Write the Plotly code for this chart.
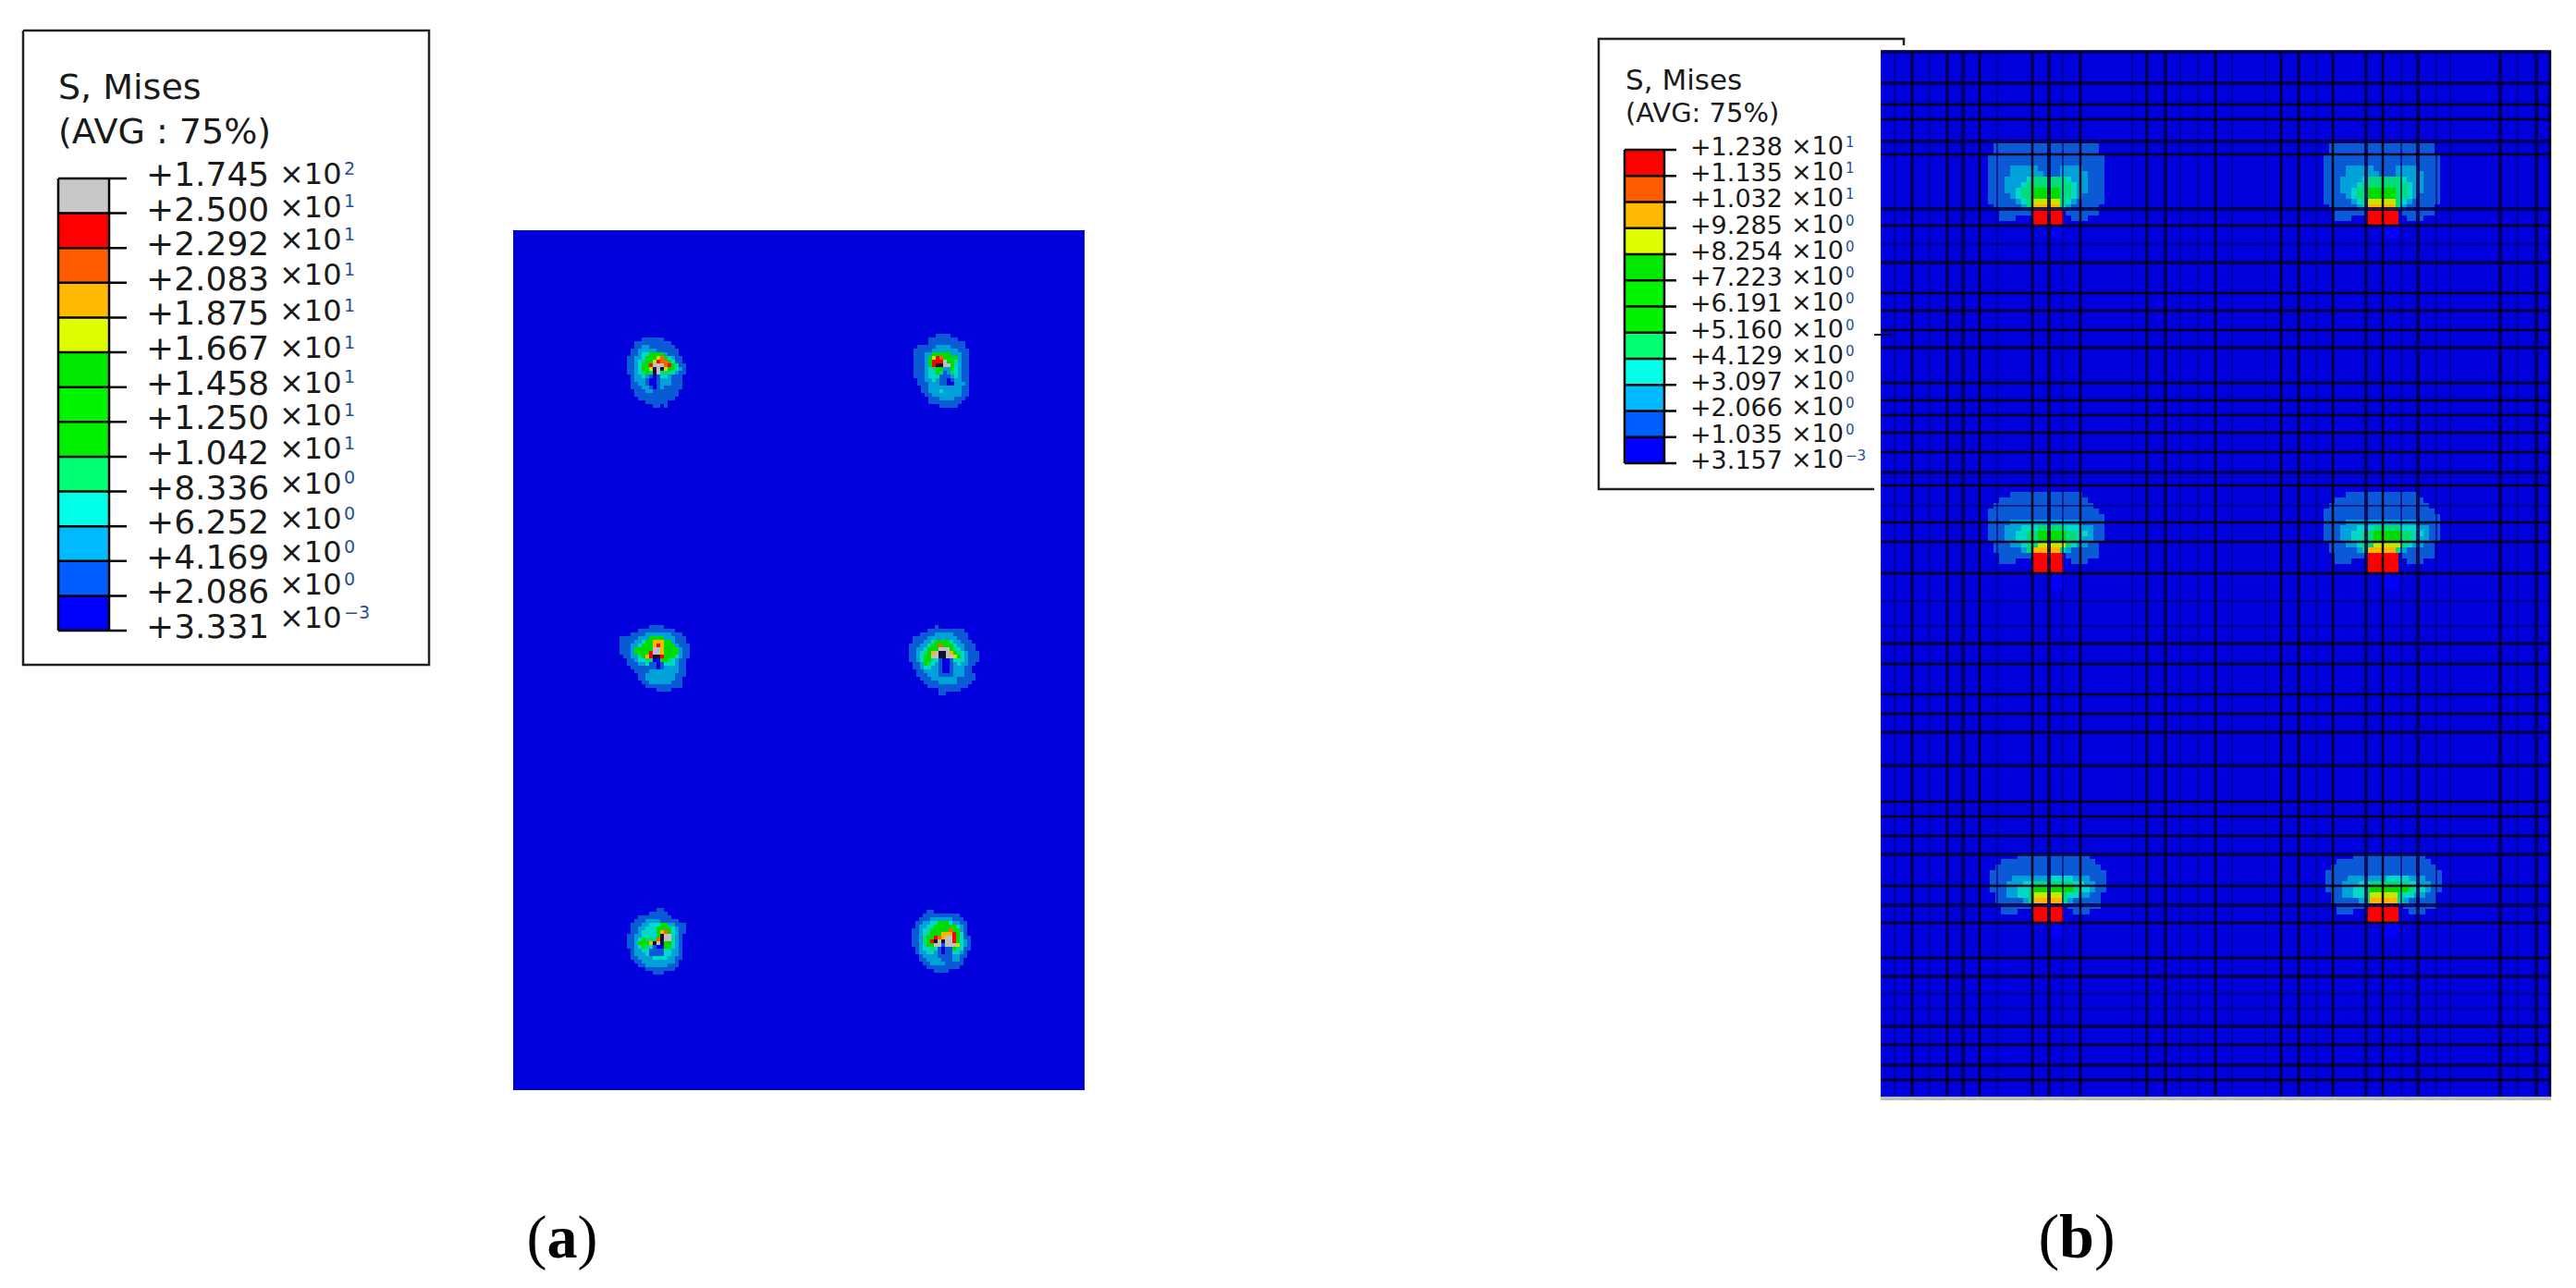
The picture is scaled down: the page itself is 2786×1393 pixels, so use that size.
import plotly.graph_objects as go

# ---------- legend values ----------
LEG_A_MANT = ["+1.745","+2.500","+2.292","+2.083","+1.875","+1.667","+1.458","+1.250","+1.042","+8.336","+6.252","+4.169","+2.086","+3.331"]
LEG_A_EXP = ["2","1","1","1","1","1","1","1","1","0","0","0","0","−3"]
LEG_B_MANT = ["+1.238","+1.135","+1.032","+9.285","+8.254","+7.223","+6.191","+5.160","+4.129","+3.097","+2.066","+1.035","+3.157"]
LEG_B_EXP = ["1","1","1","0","0","0","0","0","0","0","0","0","−3"]
LEG_A_COLORS = ["#C8C8C8","#FF0000","#FF5D00","#FFB900","#DFFF00","#00E800","#00F400","#00F000","#00FF74","#00FFE8","#00B9FF","#005DFF","#0000FF"]
LEG_B_COLORS = LEG_A_COLORS[1:]

# ---------- contour level maps (0 = background, 1..9 = bands, a = over-range, b = hole) ----------
LEVELS = ["#0000DC","#0A5AD6","#00A0D8","#00D8C8","#00DC78","#00DC00","#C8E600","#FFB400","#FF6000","#FF0000","#C0C0C0","#101030"]

A_TL = ["0000111111000000","0011111111110000","0011221111111000","0112222211111100","0112335555211100","1122355568532110",
        "1123455698853110","1123559aaa895411","1123556bab655321","1123454ba4443211","0122321013321110","0122210012221110",
        "0112210012221110","0111221012111110","0011122111111100","0011111111111100","0001111111111000","0000011111100000","0000000110100000"]
A_TR = ["000000111100000","000011111111000","000011111111110","011111222211110","111112222222111","111225555522211",
        "111256985555211","11125999a553211","111259bbaa53211","111234552253211","111233541243211","111233311123211",
        "011223211012211","011122211002221","001122222222211","001122232222211","000112222222211","000011122221110","000011111111100","000000011111000"]
A_ML = ["0000000011110000000","0000011111111110000","0001111222222211100","1111122255552221110","1111223557775521110","1112235557975552111",
        "111255555aa75555211","111255559aa75555211","011224579bb95553211","0011233440055432110","0011122311013332110","0001111111012222110",
        "0000111122222222110","0000011222222221110","0000011222222221100","0000001122222211100","0000000111111111100","0000000000111100000"]
A_MR = ["0000000100000000000","0000011111111110000","0001111222221111000","0111122222222111000","0111223555532211100","1112235585553221110",
        "11223555aaa54321110","1123457abba75432111","112355aabbaa6532111","1123554310013332111","0112543210012322110","0112332210012221100",
        "0011222210012221100","0011122211112221110","0001112222222111110","0000111122222111100","0000011111111111000","0000000011111100000","0000000011000000000"]
A_BL = ["0000000011000000","0000001111100000","0001111111110000","0011122221111100","0111223335522111","0112233355553211",
        "0112333357853211","112233335baa3210","112354448baa4210","1125557bab553210","1123543100553210","0122331111332210",
        "0122231111332210","0112222333322110","0011222222222100","0001122222211100","0000011111111000","0000000111000000"]
A_BR = ["0000110000000000","0001111111111000","0011122222211100","0112233555322110","0122335555553210","1123355555855210",
        "1123455577795310","112455987aa95311","112459babaa95321","112355aa1aaa6321","0123343101154311","0122332101133210",
        "0012222111122110","0011222211122100","0001122221111100","0000111111111000","0000001111000000"]

B_TOP = ["011111111111111111110","011111111111111111110","111111111111111111111","111111111111111111111","111122222111122221111",
         "111122222211122222111","111222234444443222111","111222344444444322111","111223445555544322111","111123445555544321111",
         "111112346666643211111","011111247777742111110","001111110000001111110","001110000000000111000"]
B_MID = ["000011111111111110000","001111111111111111000","011111111111111111100","111111111111111111110","111111111111111111111",
         "111122222222222221111","111222333444443332211","111223344555554433211","111223344555554432211","011122344666664322110",
         "011111247777742111110","001111110000001111110","001110000000000111000"]
B_BOT = ["000001111111111111000","001111111111111111100","011111111111111111110","111111111111111111111","111122222223333222111",
         "111222334444444332211","111223345555555433211","011223346666643322110","011111247777742111110","001111110000001111110","001110000000000111000"]

# ---------- mesh line positions of panel (b) ----------
V_BLACK = [2068,2106,2141,2198,2250,2322,2396,2467,2486,2523,2577,2758]
V_NAVY = [2123,2216,2342,2559,2615,2704,2743]
V_FAINT = [2049,2087,2160,2231,2306,2358,2377,2414,2450,2505,2597,2635,2650,2723]
H_BLACK = [113,129,167,244,317,336,357,414,433,449,468,489,525,565,586,620,718,751,772,867,883,904,958,998,1036,1130,1168]
H_NAVY = [56,90,153,226,284,376,511,696,792,828,924,979,1056,1110,1152]
H_FAINT = [264,547,650,677,1075,1091]

# ---------- layout constants (pixels of the page) ----------
W, H = 2786, 1393
PA = (555, 1173, 249, 1179)
PB = (2034, 2759, 55, 1186)
CELL_A, CELL_B = 4, 6
BLOBS_A = [(A_TL,678,365),(A_TR,988,361),(A_ML,670,676),(A_MR,983,676),(A_BL,678,982),(A_BR,986,984)]
BLOBS_B = [(B_TOP,2150,155),(B_TOP,2513,155),(B_MID,2150,532),(B_MID,2513,532),(B_BOT,2152,923),(B_BOT,2515,923)]
RED_B = [(2199,2232,227,243),(2559,2594,227,243),(2199,2232,598,620),(2559,2594,598,620),(2199,2232,979,997),(2559,2594,979,997)]
DARK_B = [(2216,2232,245,258),(2576,2594,245,258),(2216,2232,622,638),(2576,2594,622,638),(2216,2232,999,1014),(2576,2594,999,1014)]

fig = go.Figure()
n = len(LEVELS)
scale = []
for i, c in enumerate(LEVELS):
    scale += [[i/n, c], [(i+1)/n, c]]

def hm(z, xs, ys, cs=scale, zmax=None):
    fig.add_trace(go.Heatmap(z=z, x=xs, y=ys, colorscale=cs, zmin=0, zmax=zmax if zmax else n-1,
                             showscale=False, hoverinfo="skip", zsmooth=False))

def level_map(rows):
    return [[int(ch, 16) if ch != "0" else None for ch in r] for r in rows]

def draw_blob(rows, x0, y0, cell):
    z = level_map(rows)
    xs = [x0 + cell*i for i in range(len(rows[0]) + 1)]
    ys = [y0 + cell*j for j in range(len(rows) + 1)]
    hm(z, xs, ys, zmax=n-1)

hm([[0]], [PA[0], PA[1]], [PA[2], PA[3]], zmax=n-1)
hm([[0]], [PB[0], PB[1]], [PB[2], PB[3]], zmax=n-1)
for b in BLOBS_A:
    draw_blob(*b, CELL_A)
for b in BLOBS_B:
    draw_blob(*b, CELL_B)
for (x1, x2, y1, y2) in RED_B:
    hm([[9]], [x1, x2], [y1, y2], zmax=n-1)
blue_scale = [[0, "#0000FF"], [1, "#0000FF"]]
for (x1, x2, y1, y2) in DARK_B:
    hm([[0]], [x1, x2], [y1, y2], cs=blue_scale, zmax=1)

def seg(xs, ys, color, width):
    fig.add_trace(go.Scatter(x=xs, y=ys, mode="lines", line=dict(color=color, width=width),
                             hoverinfo="skip", showlegend=False))

def v_lines(vals, color, width):
    xs, ys = [], []
    for v in vals:
        xs += [v, v, None]; ys += [PB[2], PB[3], None]
    seg(xs, ys, color, width)

def h_lines(vals, color, width):
    xs, ys = [], []
    for v in vals:
        xs += [PB[0], PB[1], None]; ys += [v, v, None]
    seg(xs, ys, color, width)

v_lines(V_FAINT, "rgba(0,0,110,0.65)", 2)
h_lines(H_FAINT, "rgba(0,0,110,0.65)", 2)
v_lines(V_NAVY, "rgba(0,0,70,0.85)", 4)
h_lines(H_NAVY, "rgba(0,0,70,0.85)", 4)
v_lines(V_BLACK, "rgba(0,0,20,0.95)", 2.5)
h_lines(H_BLACK, "rgba(0,0,20,0.95)", 2.5)
seg([PB[0], PB[1]], [PB[3]+2, PB[3]+2], "#BEBEBE", 4)
seg([2027, 2046], [362, 362], "#000000", 2)

def text(xs, ys, labels, size, color="#1a1a1a", family="DejaVu Sans", pos="middle right"):
    fig.add_trace(go.Scatter(x=xs, y=ys, text=labels, mode="text", textposition=pos,
                             textfont=dict(family=family, size=size, color=color),
                             hoverinfo="skip", showlegend=False))

def legend(bar, colors, mant, exps, xm, xt, xe, sm, sx, se, edy, dy10):
    x1, x2, xtick, ytop, ybot = bar
    m = len(colors)
    step = (ybot - ytop) / m
    cs = []
    for i, c in enumerate(colors):
        cs += [[i/m, c], [(i+1)/m, c]]
    edges = [ytop + step*i for i in range(m+1)]
    hm([[i] for i in range(m)], [x1, x2], edges, cs=cs, zmax=m-1)
    xs, ys = [], []
    for y in edges:
        xs += [x1, xtick, None]; ys += [y, y, None]
    xs += [x1, x1, None, x2, x2, None]; ys += [ytop, ybot, None, ytop, ybot, None]
    seg(xs, ys, "#000000", 2.5)
    text([xm]*len(mant), [y - 1 for y in edges], mant, sm)
    yx = [y + d for y, d in zip(edges, dy10)]
    text([xt]*len(mant), yx, ["×10"]*len(mant), sx)
    text([xe]*len(mant), [y + edy for y in yx], exps, se, color="#1f4f9a")

DY_A = [-2,-4,-6,-6,-4,-2,-2,-4,-6,-6,-5,-7,-9,-11]
DY_B = [-2,-2,-2,-2,-2,-2,-2,-2,-2,-2,-2,-2,-2]

seg([25, 464, 464, 25, 25], [33, 33, 719, 719, 33], "#222222", 2.5)
text([63], [97], ["S, Mises"], 38)
text([63], [145], ["(AVG : 75%)"], 38)
legend((63, 118, 137, 193, 682), LEG_A_COLORS, LEG_A_MANT, LEG_A_EXP, 158, 302, 372, 36, 32, 19, -7, DY_A)

seg([2059, 2059, 1729, 1729, 2027], [49, 42, 42, 529, 529], "#222222", 2.5)
text([1758], [89], ["S, Mises"], 31)
text([1758], [125], ["(AVG: 75%)"], 29)
legend((1757, 1800, 1813, 162, 501), LEG_B_COLORS, LEG_B_MANT, LEG_B_EXP, 1828, 1937, 1996, 27, 27, 15, -5, DY_B)

text([608], [1343], ["(<b>a</b>)"], 66, color="#000000", family="Liberation Serif", pos="middle center")
text([2246], [1343], ["(<b>b</b>)"], 68, color="#000000", family="Liberation Serif", pos="middle center")

fig.update_layout(width=W, height=H, margin=dict(l=0, r=0, t=0, b=0), autosize=False,
                  paper_bgcolor="white", plot_bgcolor="white", showlegend=False,
                  xaxis=dict(range=[0, W], visible=False, fixedrange=True),
                  yaxis=dict(range=[H, 0], visible=False, fixedrange=True))
fig.write_html("out.html", config=dict(displayModeBar=False),
               post_script="document.body.style.margin='0';document.body.style.overflow='hidden';")
